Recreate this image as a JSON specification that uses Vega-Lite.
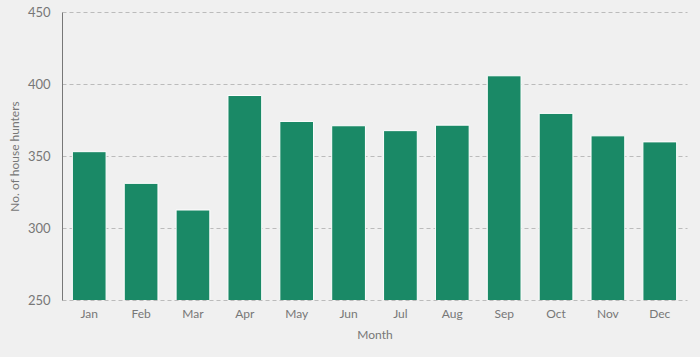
{
  "$schema": "https://vega.github.io/schema/vega-lite/v6.json",
  "width": 625,
  "height": 288,
  "autosize": "none",
  "padding": {"left": 62, "top": 12, "right": 13, "bottom": 57},
  "background": "#f0f0f0",
  "config": {
    "font": "Lato",
    "view": {"stroke": null}
  },
  "data": {
    "values": [
      {"month": "Jan", "hunters": 353},
      {"month": "Feb", "hunters": 331},
      {"month": "Mar", "hunters": 312.5},
      {"month": "Apr", "hunters": 392},
      {"month": "May", "hunters": 374},
      {"month": "Jun", "hunters": 371},
      {"month": "Jul", "hunters": 367.6},
      {"month": "Aug", "hunters": 371.4},
      {"month": "Sep", "hunters": 405.7},
      {"month": "Oct", "hunters": 379.6},
      {"month": "Nov", "hunters": 364},
      {"month": "Dec", "hunters": 359.8}
    ]
  },
  "mark": {"type": "bar", "color": "#1a8966", "stroke": "#ffffff", "strokeWidth": 1, "clip": true},
  "encoding": {
    "x": {
      "field": "month",
      "type": "ordinal",
      "sort": null,
      "scale": {"paddingInner": 0.35, "paddingOuter": 0.2},
      "axis": {
        "title": "Month",
        "labelAngle": 0,
        "domain": false,
        "ticks": false,
        "labelColor": "#777777",
        "labelFontSize": 12,
        "labelPadding": 8,
        "titleColor": "#777777",
        "titleFontSize": 12,
        "titleFontWeight": "normal",
        "titlePadding": 10
      }
    },
    "y": {
      "field": "hunters",
      "type": "quantitative",
      "scale": {"domain": [250, 450], "nice": false, "zero": false},
      "axis": {
        "title": "No. of house hunters",
        "values": [250, 300, 350, 400, 450],
        "domainColor": "#777777",
        "domainWidth": 1,
        "ticks": false,
        "grid": true,
        "gridColor": "#bbbbbb",
        "gridDash": [4, 3],
        "gridWidth": 1,
        "labelColor": "#777777",
        "labelFontSize": 13,
        "labelPadding": 12,
        "titleColor": "#777777",
        "titleFontSize": 12,
        "titleFontWeight": "normal",
        "titlePadding": 6
      }
    }
  }
}
